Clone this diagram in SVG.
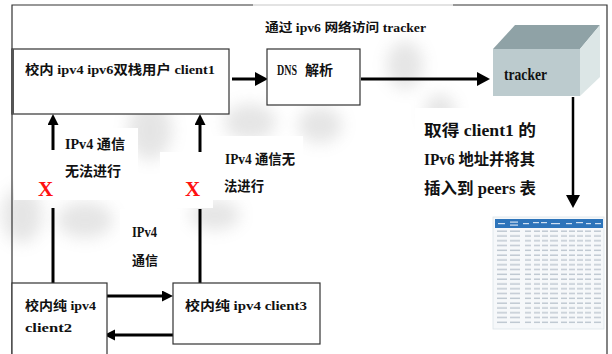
<svg xmlns="http://www.w3.org/2000/svg" width="612" height="354" viewBox="0 0 612 354">
  <defs>
    <style>
      .box { fill: #fff; stroke: #333; stroke-width: 1.2; }
      .frame { fill: none; stroke: #333; stroke-width: 1.2; }
      .con { fill: none; stroke: #000; stroke-width: 3; }
      .t { font-family: "Liberation Serif", "Noto Sans CJK SC", serif; font-weight: bold; fill: #111; }
      .x { font-family: "Liberation Serif", serif; font-weight: bold; font-size: 21px; fill: #ff1010; }
      .bg { fill: #fff; }
    </style>
    <marker id="headL" markerUnits="userSpaceOnUse" markerWidth="14" markerHeight="14" refX="4" refY="7" orient="auto">
      <path d="M0,0 L13,7 L0,14 z" fill="#000"/>
    </marker>
    <marker id="headS" markerUnits="userSpaceOnUse" markerWidth="12" markerHeight="12" refX="3" refY="5.5" orient="auto">
      <path d="M0,0 L11,5.5 L0,11 z" fill="#000"/>
    </marker>
    <filter id="soft" x="-50%" y="-50%" width="200%" height="200%">
      <feGaussianBlur stdDeviation="8"/>
    </filter>
    <!-- one row of the peers table: small grey cell entries -->
    <pattern id="rows" x="495" y="229" width="108" height="4.8" patternUnits="userSpaceOnUse">
      <g fill="#b9c2cc">
        <rect x="2" y="1.5" width="10" height="1.3"/>
        <rect x="15" y="1.5" width="10" height="1.3"/>
        <rect x="30" y="1.5" width="6" height="1.3"/>
        <rect x="39" y="1.5" width="6" height="1.3"/>
        <rect x="47" y="1.5" width="6" height="1.3"/>
        <rect x="55" y="1.5" width="8" height="1.3"/>
        <rect x="66" y="1.5" width="6" height="1.3"/>
        <rect x="74" y="1.5" width="6" height="1.3"/>
        <rect x="82" y="1.5" width="6" height="1.3"/>
        <rect x="90" y="1.5" width="6" height="1.3"/>
        <rect x="99" y="1.5" width="7" height="1.3"/>
      </g>
    </pattern>
  </defs>

  <rect width="612" height="354" fill="#fff"/>

  <!-- faint grey background swirl -->
  <g id="backdrop" filter="url(#soft)" fill="#8a8a8a" opacity="0.22">
    <ellipse cx="22" cy="215" rx="20" ry="28"/>
    <ellipse cx="85" cy="220" rx="28" ry="18"/>
    <ellipse cx="150" cy="130" rx="22" ry="30"/>
    <ellipse cx="215" cy="215" rx="25" ry="15"/>
    <ellipse cx="250" cy="122" rx="26" ry="18"/>
    <ellipse cx="320" cy="125" rx="22" ry="18"/>
    <ellipse cx="405" cy="65" rx="18" ry="24"/>
    <ellipse cx="440" cy="112" rx="15" ry="18"/>
  </g>
  <!-- white label backgrounds -->
  <g id="label-bg">
    <rect class="bg" x="14" y="150" width="48" height="50"/>
    <rect class="bg" x="60" y="128" width="78" height="72"/>
    <rect class="bg" x="160" y="152" width="53" height="56"/>
    <rect class="bg" x="213" y="136" width="90" height="64"/>
    <rect class="bg" x="120" y="209" width="60" height="73"/>
    <rect class="bg" x="415" y="108" width="150" height="96"/>
  </g>

  <!-- outer frame -->
  <g id="frame">
    <path class="frame" d="M12,354 V5 H253"/>
    <path d="M253,5 H453" stroke="#c8c8c8" stroke-width="1.2"/>
    <path class="frame" d="M453,5 H607 V354"/>
  </g>

  <!-- connectors -->
  <g id="connectors">
    <path class="con" d="M232,79 H259" marker-end="url(#headL)"/>
    <path class="con" d="M361,79 H481" marker-end="url(#headL)"/>
    <path class="con" d="M573,97 V199" marker-end="url(#headL)" style="stroke-width:2.5"/>
    <path class="con" d="M53,150 V122" marker-end="url(#headS)"/>
    <path class="con" d="M53,283 V208"/>
    <path class="con" d="M200,152 V122" marker-end="url(#headS)"/>
    <path class="con" d="M200,283 V209"/>
    <path class="con" d="M102,296 H165" marker-end="url(#headS)"/>
    <path class="con" d="M174,335 H112" marker-end="url(#headS)"/>
  </g>

  <!-- dual-stack client -->
  <g id="client1">
    <rect class="box" x="12" y="49" width="217" height="65"/>
    <path d="M13,49 V114" stroke="#555" stroke-width="2"/>
    <text class="t" x="25" y="74" font-size="13" textLength="190" lengthAdjust="spacingAndGlyphs">校内 ipv4 ipv6双栈用户 client1</text>
  </g>

  <!-- DNS -->
  <g id="dns">
    <rect class="box" x="267" y="49" width="93" height="56"/>
    <text class="t" x="277" y="75" font-size="15" textLength="20" lengthAdjust="spacingAndGlyphs">DNS</text>
    <text class="t" x="305" y="75" font-size="14" textLength="28" lengthAdjust="spacingAndGlyphs">解析</text>
  </g>

  <!-- tracker server block -->
  <g id="tracker">
    <polygon points="493,49 515,25 600,25 580,49" fill="#8fa2a6"/>
    <polygon points="580,49 600,25 600,77 580,96" fill="#dce6e6"/>
    <rect x="493" y="49" width="87" height="47" fill="#bccbce"/>
    <text class="t" x="504" y="80" font-size="16" textLength="43" lengthAdjust="spacingAndGlyphs">tracker</text>
  </g>

  <!-- peers table -->
  <g id="peers-table">
    <rect x="493" y="217" width="111" height="112" fill="#f6f8fa" stroke="#dde3e8" stroke-width="0.8"/>
    <rect x="495" y="219" width="108" height="9" fill="#2d74ba"/>
    <g fill="#cfe0f2">
      <rect x="498" y="223" width="7" height="1.2"/>
      <rect x="510" y="221.5" width="8" height="1.2"/>
      <rect x="510" y="224.5" width="8" height="1.2"/>
      <rect x="523" y="223" width="6" height="1.2"/>
      <rect x="533" y="222" width="6" height="1.2"/>
      <rect x="541" y="222" width="6" height="1.2"/>
      <rect x="551" y="223" width="9" height="1.2"/>
      <rect x="566" y="223" width="6" height="1.2"/>
      <rect x="576" y="222" width="7" height="1.2"/>
      <rect x="586" y="223" width="5" height="1.2"/>
      <rect x="595" y="223" width="6" height="1.2"/>
    </g>
    <rect x="495" y="229" width="108" height="96" fill="url(#rows)"/>
  </g>

  <!-- pure ipv4 clients -->
  <g id="client2">
    <rect class="box" x="12" y="283" width="95" height="80"/>
    <text class="t" x="25" y="310" font-size="13" textLength="71" lengthAdjust="spacingAndGlyphs">校内纯 ipv4</text>
    <text class="t" x="25" y="332" font-size="13" textLength="47" lengthAdjust="spacingAndGlyphs">client2</text>
  </g>
  <g id="client3">
    <rect class="box" x="173" y="283" width="147" height="61"/>
    <text class="t" x="185" y="310" font-size="13" textLength="122" lengthAdjust="spacingAndGlyphs">校内纯 ipv4 client3</text>
  </g>

  <!-- labels -->
  <g id="labels">
    <text class="t" x="265" y="32" font-size="12" textLength="161" lengthAdjust="spacingAndGlyphs">通过 ipv6 网络访问 tracker</text>
    <text class="t" x="424" y="136" font-size="16" textLength="112" lengthAdjust="spacingAndGlyphs">取得 client1 的</text>
    <text class="t" x="424" y="165" font-size="16" textLength="111" lengthAdjust="spacingAndGlyphs">IPv6 地址并将其</text>
    <text class="t" x="424" y="194" font-size="16" textLength="112" lengthAdjust="spacingAndGlyphs">插入到 peers 表</text>
    <text class="t" x="65" y="149" font-size="14" textLength="60" lengthAdjust="spacingAndGlyphs">IPv4 通信</text>
    <text class="t" x="65" y="176" font-size="14" textLength="56" lengthAdjust="spacingAndGlyphs">无法进行</text>
    <text class="t" x="225" y="164" font-size="14" textLength="70" lengthAdjust="spacingAndGlyphs">IPv4 通信无</text>
    <text class="t" x="224" y="191" font-size="14" textLength="40" lengthAdjust="spacingAndGlyphs">法进行</text>
    <text class="t" x="132" y="237" font-size="14" textLength="25" lengthAdjust="spacingAndGlyphs">IPv4</text>
    <text class="t" x="132" y="265" font-size="13" textLength="26" lengthAdjust="spacingAndGlyphs">通信</text>
    <text class="x" x="38" y="196">X</text>
    <text class="x" x="185" y="196">X</text>
  </g>
</svg>
